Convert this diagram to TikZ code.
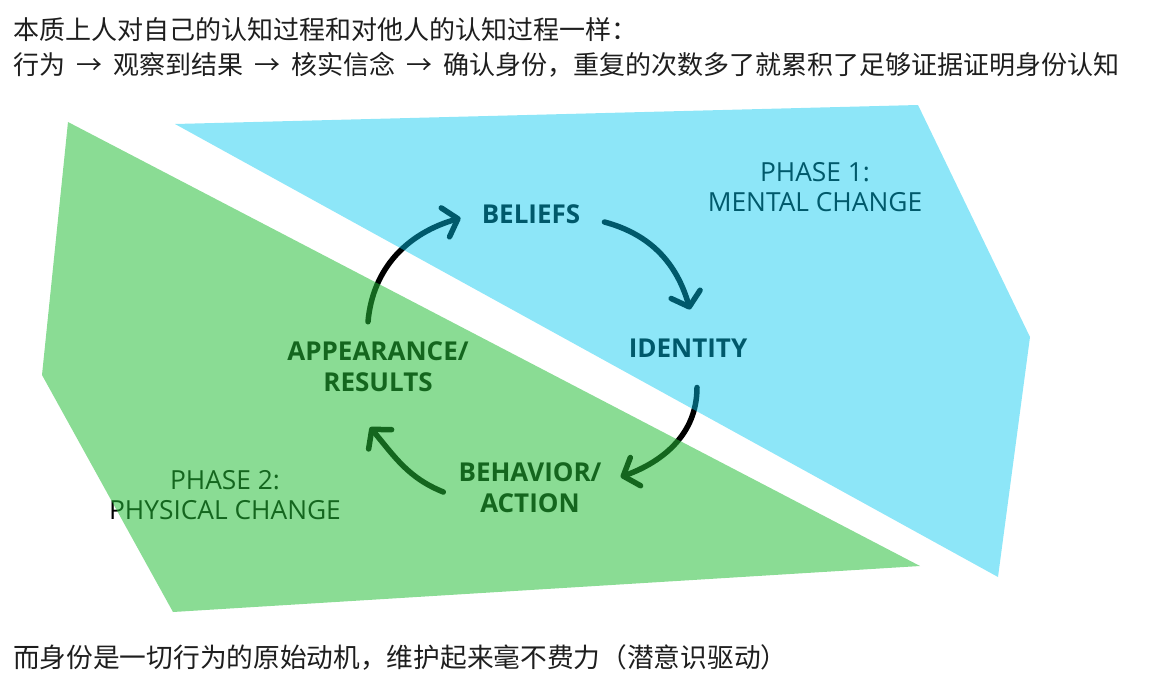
\documentclass[tikz,border=0pt]{standalone}
\usepackage{fontspec}
\setmainfont{Open Sans}
\newfontfamily\cjk{Noto Sans CJK SC}
\usetikzlibrary{arrows.meta}
\definecolor{phaseblue}{RGB}{2,199,239}
\definecolor{phasegreen}{RGB}{38,190,57}
\definecolor{notegray}{RGB}{30,30,30}
\newcommand\nextstep{\hspace{11pt}→\hspace{11pt}}

\begin{document}
\begin{tikzpicture}[x=1pt,y=-1pt,
  stage/.style={font=\fontsize{26}{31}\selectfont\bfseries, align=center, inner sep=0pt},
  phase/.style={font=\fontsize{26.3}{30}\selectfont, align=center, inner sep=0pt},
  note/.style={font=\cjk\fontsize{26}{30}\selectfont, text=notegray, anchor=west, inner sep=0pt},
  cyc/.style={line width=5.5pt, line cap=round,
              -{Straight Barb[length=13pt,width=30pt,round]}}
]
\useasboundingbox (0,0) rectangle (1160,697);

% text
\node[note] (line1) at (13,30) {本质上人对自己的认知过程和对他人的认知过程一样：};
\node[note] (line2) at (13,65) {行为\nextstep 观察到结果\nextstep 核实信念\nextstep 确认身份，重复的次数多了就累积了足够证据证明身份认知};
\node[note, font=\cjk\fontsize{26.7}{30}\selectfont] (line3) at (13,657) {而身份是一切行为的原始动机，维护起来毫不费力（潜意识驱动）};

% the cycle
\node[stage] (bel) at (531,214) {BELIEFS};
\node[stage] (idn) at (688,348) {IDENTITY};
\node[stage] (beh) at (530,488) {BEHAVIOR/\\ACTION};
\node[stage] (app) at (378,367) {APPEARANCE/\\RESULTS};
\node[phase] (ph1) at (815,187) {PHASE 1:\\MENTAL CHANGE};
\node[phase] (ph2) at (225,495) {PHASE 2:\\PHYSICAL CHANGE};

\draw[cyc] ([xshift=-10pt,yshift=20pt]app.north) to[out=85,in=196] ([xshift=-21pt,yshift=-4pt]bel.west);
\draw[cyc] ([xshift=24pt,yshift=-8pt]bel.east) to[out=-15,in=106] ([xshift=2pt,yshift=29pt]idn.north);
\draw[cyc] ([xshift=9pt,yshift=-30pt]idn.south) to[out=-90,in=20] ([xshift=19pt,yshift=11pt]beh.east);
\draw[cyc] ([xshift=-15pt,yshift=-4pt]beh.west) to[out=158,in=-50] ([xshift=-8pt,yshift=-35pt]app.south);

% tinted phases laid over the cycle
\fill[phaseblue, fill opacity=0.45] (175,124) -- (918,105) -- (1030,337) -- (998,577) -- cycle;
\fill[phasegreen, fill opacity=0.54] (68,122) -- (42,375) -- (173,612) -- (920,566) -- cycle;
\end{tikzpicture}
\end{document}
